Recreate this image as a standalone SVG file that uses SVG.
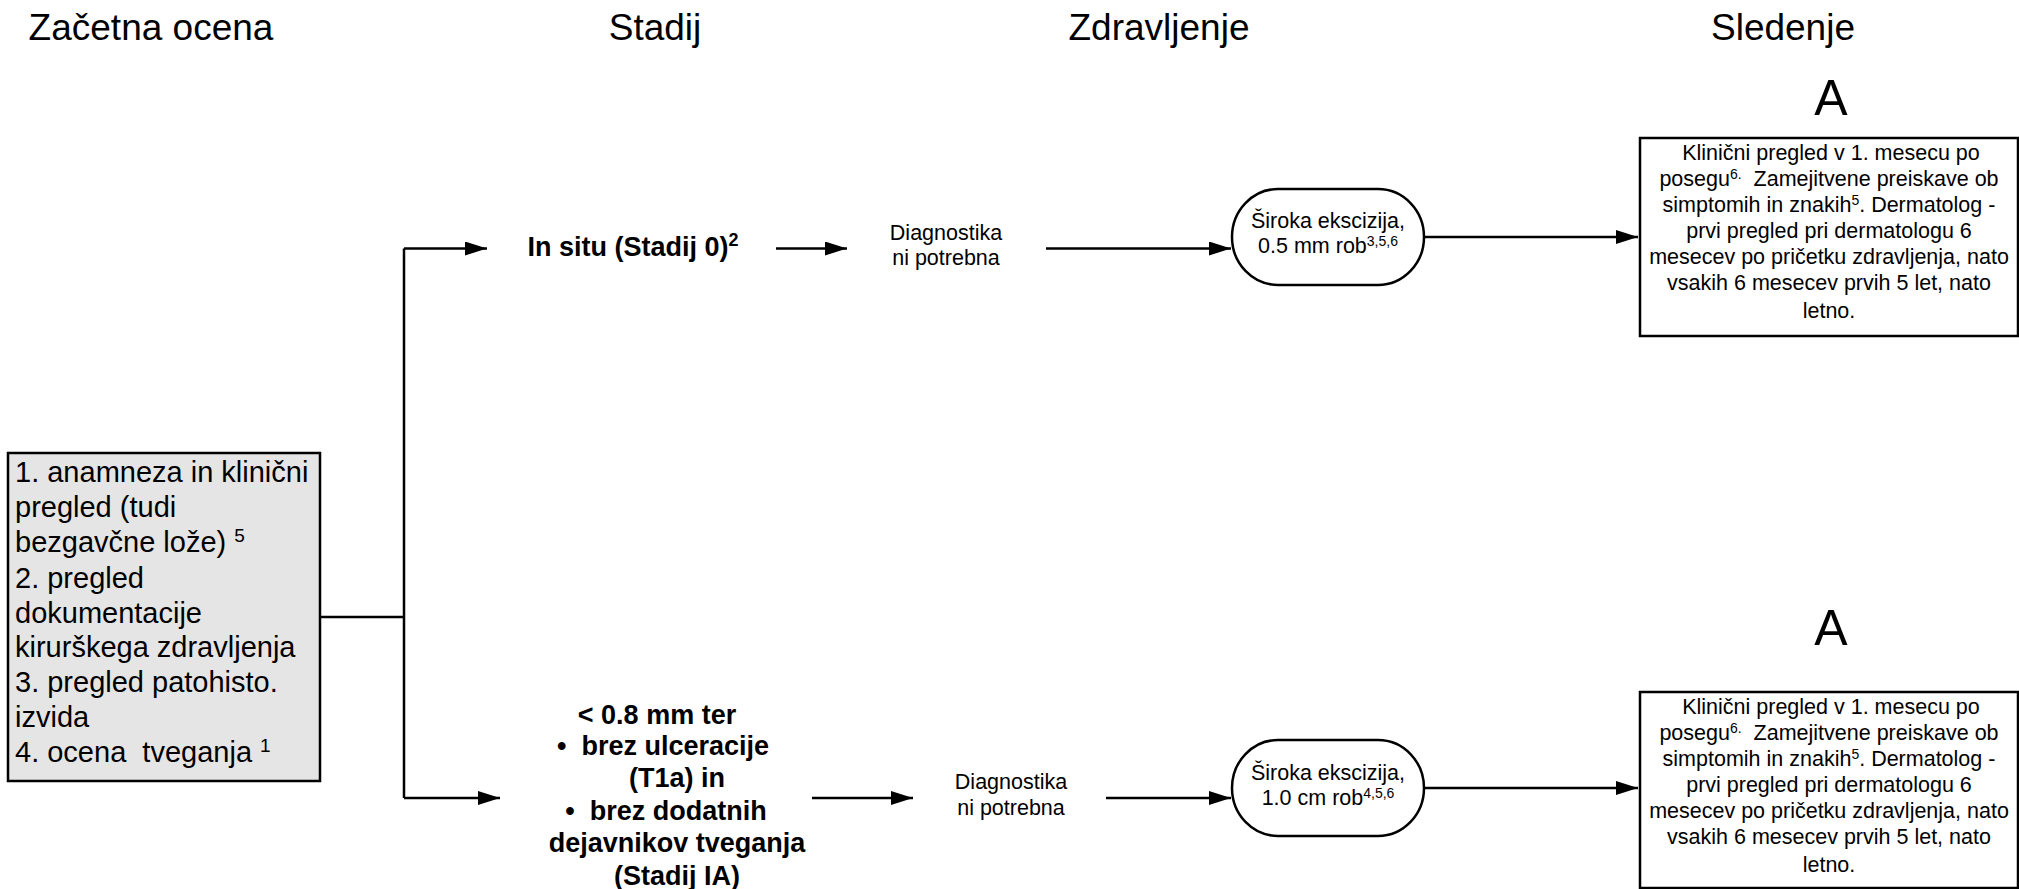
<svg xmlns="http://www.w3.org/2000/svg" width="2019" height="889" viewBox="0 0 2019 889">
  <style>
    text { font-family: "Liberation Sans", Arial, sans-serif; fill: #000; white-space: pre; }
    .head { font-size: 37px; text-anchor: middle; }
    .letter { font-size: 50px; text-anchor: middle; }
    .lead { font-size: 29px; }
    .stage { font-size: 27px; font-weight: bold; text-anchor: middle; }
    .small { font-size: 21.5px; text-anchor: middle; }
    .sup { font-size: 14px; }
    .box { fill: #fff; stroke: #000; stroke-width: 2.5; }
    .grey { fill: #e5e5e5; stroke: #000; stroke-width: 2.5; }
    .wire { fill: none; stroke: #000; stroke-width: 2.5; }
  </style>
  <defs>
    <marker id="arrow" markerUnits="userSpaceOnUse" markerWidth="22" markerHeight="14" refX="22" refY="7" orient="auto">
      <path d="M0,0 L22,7 L0,14 Z" fill="#000"/>
    </marker>
  </defs>
  <rect width="2019" height="889" fill="#fff"/>

  <!-- column headings -->
  <g id="headings">
    <text class="head" x="151" y="40">Začetna ocena</text>
    <text class="head" x="655" y="40">Stadij</text>
    <text class="head" x="1159" y="40">Zdravljenje</text>
    <text class="head" x="1783" y="40">Sledenje</text>
    <text class="letter" x="1831" y="115">A</text>
    <text class="letter" x="1831" y="645">A</text>
  </g>

  <!-- connectors -->
  <g id="connectors">
    <path class="wire" d="M320,617 H404"/>
    <path class="wire" d="M404,248.5 V798"/>
    <path class="wire" d="M404,248.5 H487" marker-end="url(#arrow)"/>
    <path class="wire" d="M404,798 H500" marker-end="url(#arrow)"/>
    <path class="wire" d="M776,248.5 H847" marker-end="url(#arrow)"/>
    <path class="wire" d="M1046,248.5 H1231" marker-end="url(#arrow)"/>
    <path class="wire" d="M1424,237 H1638" marker-end="url(#arrow)"/>
    <path class="wire" d="M812,798 H913" marker-end="url(#arrow)"/>
    <path class="wire" d="M1106,798 H1231" marker-end="url(#arrow)"/>
    <path class="wire" d="M1424,788 H1638" marker-end="url(#arrow)"/>
  </g>

  <!-- initial assessment -->
  <g id="initial">
    <rect class="grey" x="8" y="453" width="312" height="328"/>
    <text class="lead" x="15" y="482">1. anamneza in klinični</text>
    <text class="lead" x="15" y="517">pregled (tudi</text>
    <text class="lead" x="15" y="552">bezgavčne lože) <tspan font-size="19" dy="-10">5</tspan></text>
    <text class="lead" x="15" y="588">2. pregled</text>
    <text class="lead" x="15" y="623">dokumentacije</text>
    <text class="lead" x="15" y="657">kirurškega zdravljenja</text>
    <text class="lead" x="15" y="692">3. pregled patohisto.</text>
    <text class="lead" x="15" y="727">izvida</text>
    <text class="lead" x="15" y="762">4. ocena  tveganja <tspan font-size="19" dy="-10">1</tspan></text>
  </g>

  <!-- stage 0 branch -->
  <g id="stage0">
    <text class="stage" x="633" y="256">In situ (Stadij 0)<tspan font-size="18" dy="-10">2</tspan></text>
  </g>
  <g id="diag0">
    <text class="small" x="946" y="240">Diagnostika</text>
    <text class="small" x="946" y="265">ni potrebna</text>
  </g>
  <g id="excision0">
    <rect class="box" x="1232" y="189" width="192" height="96" rx="46" ry="48"/>
    <text class="small" x="1328" y="228">Široka ekscizija,</text>
    <text class="small" x="1328" y="253">0.5 mm rob<tspan class="sup" dy="-7">3,5,6</tspan></text>
  </g>
  <g id="followup0">
    <rect class="box" x="1640" y="138" width="378" height="198"/>
    <text class="small" x="1831" y="160">Klinični pregled v 1. mesecu po</text>
    <text class="small" x="1829" y="186">posegu<tspan class="sup" dy="-7">6.</tspan><tspan dy="7">  Zamejitvene preiskave ob</tspan></text>
    <text class="small" x="1829" y="212">simptomih in znakih<tspan class="sup" dy="-7">5</tspan><tspan dy="7">. Dermatolog -</tspan></text>
    <text class="small" x="1829" y="238">prvi pregled pri dermatologu 6</text>
    <text class="small" x="1829" y="264">mesecev po pričetku zdravljenja, nato</text>
    <text class="small" x="1829" y="290">vsakih 6 mesecev prvih 5 let, nato</text>
    <text class="small" x="1829" y="318">letno.</text>
  </g>

  <!-- stage IA branch -->
  <g id="stageIA">
    <text class="stage" x="657" y="724">&lt; 0.8 mm ter</text>
    <text class="stage" x="663" y="755">•  brez ulceracije</text>
    <text class="stage" x="677" y="787">(T1a) in</text>
    <text class="stage" x="666" y="820">•  brez dodatnih</text>
    <text class="stage" x="677" y="852">dejavnikov tveganja</text>
    <text class="stage" x="677" y="885">(Stadij IA)</text>
  </g>
  <g id="diagIA">
    <text class="small" x="1011" y="789">Diagnostika</text>
    <text class="small" x="1011" y="815">ni potrebna</text>
  </g>
  <g id="excisionIA">
    <rect class="box" x="1232" y="740" width="192" height="96" rx="46" ry="48"/>
    <text class="small" x="1328" y="780">Široka ekscizija,</text>
    <text class="small" x="1328" y="805">1.0 cm rob<tspan class="sup" dy="-7">4,5,6</tspan></text>
  </g>
  <g id="followupIA">
    <rect class="box" x="1640" y="692" width="378" height="196"/>
    <text class="small" x="1831" y="714">Klinični pregled v 1. mesecu po</text>
    <text class="small" x="1829" y="740">posegu<tspan class="sup" dy="-7">6.</tspan><tspan dy="7">  Zamejitvene preiskave ob</tspan></text>
    <text class="small" x="1829" y="766">simptomih in znakih<tspan class="sup" dy="-7">5</tspan><tspan dy="7">. Dermatolog -</tspan></text>
    <text class="small" x="1829" y="792">prvi pregled pri dermatologu 6</text>
    <text class="small" x="1829" y="818">mesecev po pričetku zdravljenja, nato</text>
    <text class="small" x="1829" y="844">vsakih 6 mesecev prvih 5 let, nato</text>
    <text class="small" x="1829" y="872">letno.</text>
  </g>
</svg>
